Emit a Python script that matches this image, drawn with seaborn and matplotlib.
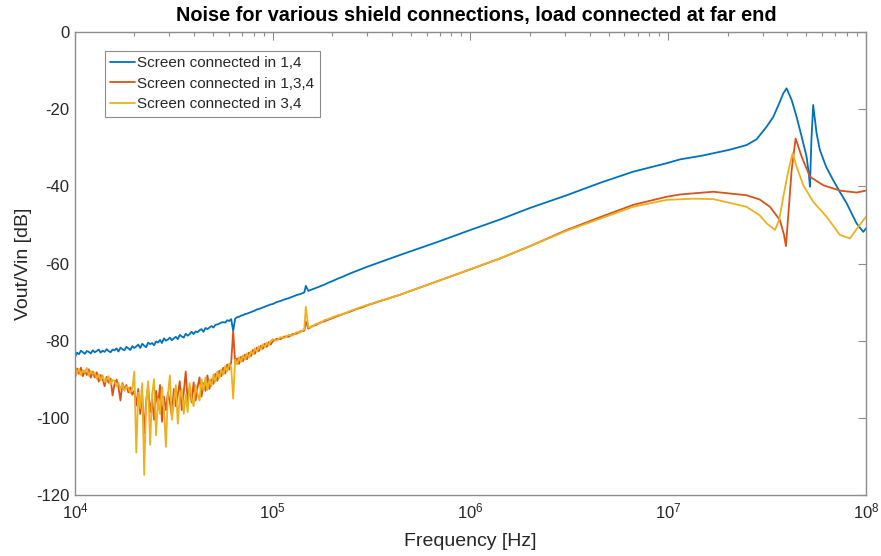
import numpy as np
import pandas as pd
import matplotlib
matplotlib.use("Agg")
import matplotlib.pyplot as plt
import seaborn as sns
from matplotlib.lines import Line2D
from matplotlib.ticker import LogLocator, NullFormatter

# ---------------- data ----------------
LABELS = ["Screen connected in 1,4", "Screen connected in 1,3,4", "Screen connected in 3,4"]
COLORS = ["#0072BD", "#D95319", "#EDB120"]

# shared low-frequency grid (Hz)
F_LOW = [1.000e4, 1.023e4, 1.047e4, 1.072e4, 1.096e4, 1.122e4, 1.148e4, 1.175e4, 1.202e4, 1.230e4,
         1.259e4, 1.288e4, 1.318e4, 1.349e4, 1.380e4, 1.413e4, 1.445e4, 1.479e4, 1.514e4, 1.549e4,
         1.585e4, 1.622e4, 1.660e4, 1.698e4, 1.738e4, 1.778e4, 1.820e4, 1.862e4, 1.905e4, 1.950e4,
         1.995e4, 2.042e4, 2.089e4, 2.138e4, 2.188e4, 2.239e4, 2.291e4, 2.344e4, 2.399e4, 2.455e4,
         2.512e4, 2.570e4, 2.630e4, 2.692e4, 2.754e4, 2.818e4, 2.884e4, 2.951e4, 3.020e4, 3.090e4,
         3.162e4, 3.236e4, 3.311e4, 3.388e4, 3.467e4, 3.548e4, 3.631e4, 3.715e4, 3.802e4, 3.890e4,
         3.981e4, 4.074e4, 4.169e4, 4.266e4, 4.365e4, 4.467e4, 4.571e4, 4.677e4, 4.786e4, 4.898e4,
         5.012e4, 5.129e4, 5.248e4, 5.370e4, 5.495e4, 5.623e4, 5.754e4, 5.888e4, 6.026e4, 6.166e4,
         6.310e4, 6.457e4, 6.607e4, 6.761e4, 6.918e4, 7.079e4, 7.244e4, 7.413e4, 7.586e4, 7.762e4,
         7.943e4, 8.128e4, 8.318e4, 8.511e4, 8.710e4, 8.913e4, 9.120e4, 9.333e4, 9.550e4, 9.772e4,
         1.000e5, 1.047e5, 1.096e5, 1.148e5, 1.202e5, 1.259e5, 1.318e5, 1.380e5, 1.445e5, 1.470e5,
         1.514e5, 1.585e5, 1.660e5, 1.738e5, 1.820e5, 1.905e5, 1.995e5, 2.138e5, 2.291e5, 2.455e5,
         2.630e5, 2.818e5, 3.020e5]

DB_LOW_14 = [-84.4, -83.1, -83.5, -82.6, -83.0, -83.4, -82.7, -82.9, -83.3, -82.5,
             -83.0, -82.7, -82.3, -83.1, -82.6, -82.9, -82.2, -82.7, -83.0, -82.3,
             -82.5, -82.0, -82.8, -81.8, -82.2, -82.5, -81.6, -82.0, -82.4, -81.4,
             -81.9, -81.5, -81.0, -81.9, -80.8, -81.3, -81.7, -80.5, -80.9, -80.6,
             -81.2, -80.2, -80.5, -79.8, -80.6, -79.4, -80.0, -79.7, -79.2, -79.9,
             -79.4, -79.0, -79.6, -78.5, -78.9, -79.2, -78.2, -78.7, -78.3, -77.7,
             -78.3, -77.6, -77.8, -77.3, -77.0, -77.7, -76.7, -77.0, -76.6, -76.2,
             -76.6, -75.9, -75.8, -75.6, -75.3, -75.2, -75.3, -74.7, -74.9, -74.4,
             -77.5, -74.3, -73.9, -73.8, -73.5, -73.4, -73.1, -73.0, -72.8, -72.6,
             -72.4, -72.2, -71.9, -71.8, -71.6, -71.4, -71.2, -71.0, -70.8, -70.6,
             -70.5, -70.0, -69.7, -69.3, -69.0, -68.6, -68.2, -67.9, -67.5, -65.8,
             -67.1, -66.7, -66.3, -65.9, -65.5, -65.0, -64.6, -63.9, -63.3, -62.6,
             -62.0, -61.4, -60.8]

DB_LOW_134 = [-89.8, -87.2, -88.6, -87.0, -89.2, -87.8, -88.9, -87.4, -89.6, -88.0,
              -89.5, -88.2, -90.6, -88.9, -90.0, -91.8, -89.4, -90.9, -89.8, -94.2,
              -91.2, -90.1, -92.0, -95.5, -91.0, -92.6, -91.5, -93.4, -92.1, -94.0,
              -93.0, -96.8, -92.5, -99.0, -94.2, -104.0, -95.5, -92.0, -98.5, -95.0,
              -100.5, -93.0, -97.0, -91.5, -101.0, -94.5, -98.0, -93.5, -96.0, -99.5,
              -92.5, -97.0, -94.0, -90.5, -98.0, -93.5, -88.0, -95.5, -92.0, -96.0,
              -90.8, -95.5, -92.0, -89.5, -94.5, -91.0, -93.0, -89.0, -92.5, -90.0,
              -91.2, -88.6, -90.4, -87.8, -89.2, -87.0, -88.5, -86.2, -87.5, -85.6,
              -77.5, -85.8, -84.6, -86.0, -84.2, -85.3, -83.6, -84.8, -83.1, -84.0,
              -82.4, -83.4, -81.8, -82.7, -81.3, -82.1, -80.8, -81.6, -80.4, -81.0,
              -80.2, -79.5, -79.6, -78.9, -79.0, -78.3, -78.2, -77.6, -77.4, -75.0,
              -76.9, -76.2, -75.9, -75.3, -75.0, -74.6, -74.2, -73.6, -73.0, -72.5,
              -71.9, -71.4, -70.8]

DB_LOW_34 = [-86.8, -88.4, -87.3, -88.9, -87.6, -88.2, -87.1, -89.1, -87.9, -88.6,
             -88.3, -89.9, -88.7, -90.3, -89.0, -90.7, -90.1, -89.2, -91.4, -90.2,
             -90.4, -91.8, -90.9, -92.5, -91.3, -93.0, -91.9, -92.2, -93.6, -92.4,
             -88.0, -109.0, -93.5, -97.5, -91.0, -114.8, -96.0, -90.5, -107.0, -94.0,
             -90.0, -104.5, -95.0, -99.0, -92.0, -97.5, -107.5, -94.0, -89.0, -100.5,
             -96.0, -91.5, -101.5, -94.5, -92.5, -99.0, -94.0, -98.5, -91.0, -95.0,
             -97.0, -91.5, -93.8, -95.5, -90.0, -93.0, -89.5, -92.8, -90.2, -91.8,
             -88.8, -90.6, -88.0, -89.7, -87.5, -88.8, -86.6, -87.9, -86.0, -86.9,
             -95.0, -84.9, -86.1, -84.3, -85.5, -83.8, -84.9, -83.3, -84.4, -82.8,
             -83.5, -82.0, -82.9, -81.5, -82.3, -80.9, -81.7, -80.5, -81.2, -80.1,
             -79.6, -80.0, -79.1, -79.3, -78.5, -78.7, -77.8, -77.9, -77.0, -71.2,
             -76.6, -76.4, -75.6, -75.5, -74.7, -74.4, -74.0, -73.4, -73.1, -72.3,
             -71.8, -71.2, -70.7]

# high-frequency parts (Hz, dB)
F_HI_14 = [4.4e5, 7.0e5, 1.0e6, 1.41e6, 2.0e6, 3.07e6, 4.52e6, 6.65e6, 9.82e6, 1.15e7,
           1.5e7, 2.05e7, 2.49e7, 2.8e7, 3.15e7, 3.4e7, 3.67e7, 3.82e7, 3.97e7, 4.21e7,
           4.46e7, 4.73e7, 5.01e7, 5.15e7, 5.21e7, 5.30e7, 5.41e7, 5.63e7, 5.85e7, 6.3e7,
           6.83e7, 7.39e7, 7.99e7, 8.97e7, 9.69e7, 1.0e8]
DB_HI_14 = [-57.8, -54.2, -51.3, -48.6, -45.6, -42.3, -39.1, -36.2, -34.0, -33.0,
            -32.0, -30.5, -29.3, -27.8, -24.5, -22.0, -18.1, -15.9, -14.6, -17.6,
            -22.0, -27.1, -32.3, -37.0, -40.1, -28.0, -18.9, -26.3, -30.6, -35.0,
            -38.4, -41.5, -44.4, -49.6, -51.8, -50.9]

F_HI_134 = [4.4e5, 1.0e6, 1.41e6, 2.0e6, 3.07e6, 4.52e6, 6.65e6, 9.82e6, 1.15e7, 1.69e7,
            2.49e7, 2.9e7, 3.27e7, 3.67e7, 3.85e7, 3.94e7, 4.08e7, 4.21e7, 4.41e7, 4.73e7,
            5.21e7, 6.08e7, 7.39e7, 8.97e7, 1.0e8]
DB_HI_134 = [-68.1, -61.5, -58.7, -55.5, -51.3, -48.0, -44.8, -42.7, -42.1, -41.4,
             -42.3, -43.4, -45.3, -48.7, -52.5, -55.5, -45.3, -35.8, -27.6, -32.3,
             -37.5, -39.7, -41.1, -41.6, -41.1]

F_HI_34 = [4.4e5, 1.0e6, 1.41e6, 2.0e6, 3.07e6, 4.52e6, 6.65e6, 9.82e6, 1.34e7, 1.69e7,
           2.49e7, 2.9e7, 3.15e7, 3.47e7, 3.65e7, 3.82e7, 4.05e7, 4.26e7, 4.46e7, 4.82e7,
           5.41e7, 6.33e7, 7.39e7, 8.30e7, 9.14e7, 1.0e8]
DB_HI_34 = [-68.1, -61.5, -58.7, -55.5, -51.5, -48.4, -45.3, -43.5, -43.2, -43.3,
            -45.3, -47.5, -49.6, -51.3, -48.5, -42.7, -36.0, -31.4, -34.9, -39.7,
            -44.0, -47.9, -52.6, -53.5, -50.5, -47.9]

Y_TICKS = [-120, -100, -80, -60, -40, -20, 0]

# ---------------- build long table ----------------
frames = []
for lab, dlow, fhi, dhi in zip(LABELS,
                               [DB_LOW_14, DB_LOW_134, DB_LOW_34],
                               [F_HI_14, F_HI_134, F_HI_34],
                               [DB_HI_14, DB_HI_134, DB_HI_34]):
    frames.append(pd.DataFrame({"f": F_LOW + fhi, "db": dlow + dhi, "series": lab}))
df = pd.concat(frames, ignore_index=True)

# ---------------- style ----------------
sns.set_style("white")
plt.rcParams["font.family"] = ["Liberation Sans", "DejaVu Sans"]
plt.rcParams["mathtext.fontset"] = "custom"
plt.rcParams["mathtext.rm"] = "Liberation Sans"
plt.rcParams["mathtext.it"] = "Liberation Sans:italic"
plt.rcParams["mathtext.bf"] = "Liberation Sans:bold"
plt.rcParams["axes.unicode_minus"] = False

AX_COL = "#8c8c8c"
TXT_COL = "#262626"

fig = plt.figure(figsize=(8.81, 5.56), dpi=100)
ax = fig.add_axes([0.0851, 0.1097, 0.8978, 0.8327])

sns.lineplot(data=df, x="f", y="db", hue="series", hue_order=LABELS,
             palette=COLORS, estimator=None, sort=False, linewidth=1.3,
             ax=ax, legend=False)

ax.set_xscale("log")
ax.set_xlim(1e4, 1e8)
ax.set_ylim(-120, 0)
ax.set_yticks(Y_TICKS)
ax.xaxis.set_major_locator(LogLocator(base=10, numticks=10))
ax.xaxis.set_minor_locator(LogLocator(base=10, subs=np.arange(2, 10), numticks=100))
ax.xaxis.set_minor_formatter(NullFormatter())

ax.tick_params(which="both", direction="in", top=True, right=True,
               color=AX_COL, labelcolor=TXT_COL, labelsize=12, width=0.8)
ax.tick_params(which="major", length=6)
ax.tick_params(which="minor", length=3)
ax.tick_params(axis="x", which="major", pad=5)
ax.tick_params(axis="y", which="major", pad=4)
for s in ax.spines.values():
    s.set_color(AX_COL)
    s.set_linewidth(1.0)

ax.set_xlabel("Frequency [Hz]", fontsize=14, color=TXT_COL, labelpad=8)
ax.set_ylabel("Vout/Vin [dB]", fontsize=14, color=TXT_COL, labelpad=3)
ax.set_title("Noise for various shield connections, load connected at far end",
             fontsize=14.3, fontweight="bold", color="black", pad=8, x=0.508)

handles = [Line2D([0], [0], color=c, lw=1.3) for c in COLORS]
leg = ax.legend(handles, LABELS, loc="upper left",
                bbox_to_anchor=(105 / 881, 1 - 51 / 556), bbox_transform=fig.transFigure,
                borderaxespad=0, fancybox=False, framealpha=1, edgecolor="#8c8c8c",
                fontsize=11, handlelength=1.6, handletextpad=0.15,
                labelspacing=0.42, borderpad=0.35)
leg.get_frame().set_linewidth(0.8)
for t in leg.get_texts():
    t.set_color(TXT_COL)

fig.savefig("out.png", dpi=100)
